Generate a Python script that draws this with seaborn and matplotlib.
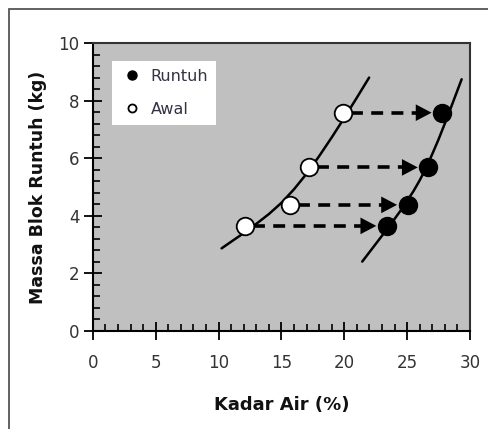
import matplotlib
matplotlib.use("Agg")
import matplotlib.pyplot as plt
import seaborn as sns
from matplotlib.patches import Rectangle
from matplotlib.ticker import MultipleLocator
from matplotlib.lines import Line2D

# Data
awal_x = [12.1, 15.7, 17.2, 19.9]
awal_y = [3.65, 4.38, 5.68, 7.58]
runtuh_x = [23.4, 25.05, 26.7, 27.8]
runtuh_y = [3.65, 4.38, 5.68, 7.58]

# trend curves
curve_awal_x = [10.24, 11.0, 12.0, 12.5, 13.0, 14.0, 15.0, 16.0, 17.0, 18.0, 19.0, 20.0, 21.0, 21.98]
curve_awal_y = [2.87, 3.10, 3.40, 3.56, 3.72, 4.06, 4.45, 4.92, 5.46, 6.07, 6.72, 7.40, 8.10, 8.80]
curve_runtuh_x = [21.43, 22.5, 23.5, 24.5, 25.5, 26.0, 26.5, 27.0, 27.5, 28.0, 28.5, 29.34]
curve_runtuh_y = [2.41, 3.02, 3.59, 4.19, 4.85, 5.23, 5.65, 6.14, 6.65, 7.20, 7.77, 8.74]

sns.set_theme(style="ticks")
plt.rcParams['font.family'] = ['DejaVu Sans']

fig = plt.figure(figsize=(4.89, 4.29), dpi=100)
ax = fig.add_axes([0.190, 0.2284, 0.771, 0.6714])
ax.set_facecolor('#C0C0C0')

# outer frame
fig.patches.append(Rectangle((9/489, -0.1), 1.2, 1 - 9/429 + 0.1, transform=fig.transFigure,
                             fill=False, edgecolor='#555555', linewidth=1.3, zorder=0))

sns.lineplot(x=curve_awal_x, y=curve_awal_y, ax=ax, color='black', lw=1.8, sort=False, zorder=2)
sns.lineplot(x=curve_runtuh_x, y=curve_runtuh_y, ax=ax, color='black', lw=1.8, sort=False, zorder=2)

# arrows
for xa, xr, y in zip(awal_x, runtuh_x, awal_y):
    tip = xr - 0.85
    ax.plot([xa + 0.6, tip - 0.6], [y, y], color='black', lw=2.6,
            linestyle=(0, (3.3, 2.3)), dash_capstyle='butt', zorder=3)
    ax.annotate('', xy=(tip, y), xytext=(tip - 1.0, y),
                arrowprops=dict(arrowstyle='-|>,head_length=0.95,head_width=0.5',
                                color='black', lw=0, shrinkA=0, shrinkB=0), zorder=3)

ax.scatter(awal_x, awal_y, s=160, facecolor='white', edgecolor='black', linewidth=1.3, zorder=4)
ax.scatter(runtuh_x, runtuh_y, s=160, facecolor='black', edgecolor='black', linewidth=1.3, zorder=4)

ax.set_xlim(0, 30)
ax.set_ylim(0, 10)
ax.xaxis.set_major_locator(MultipleLocator(5))
ax.xaxis.set_minor_locator(MultipleLocator(1))
ax.yaxis.set_major_locator(MultipleLocator(2))
ax.yaxis.set_minor_locator(MultipleLocator(0.4))
ax.tick_params(which='major', direction='inout', length=13, width=1.3, color='black',
               labelsize=12, labelcolor='#333333', pad=10)
ax.tick_params(which='minor', direction='in', length=5, width=1.2, color='black')
ax.tick_params(axis='y', which='major', pad=3)
for s in ax.spines.values():
    s.set_linewidth(1.5)
    s.set_color('#333333')
ax.spines['left'].set_color('black')
ax.spines['bottom'].set_color('black')

ax.set_xlabel('Kadar Air (%)', fontsize=13, fontweight='bold', labelpad=17, color='#111111')
ax.set_ylabel('Massa Blok Runtuh (kg)', fontsize=12.5, fontweight='bold', labelpad=8, color='#111111')

# legend
handles = [Line2D([], [], marker='o', ls='none', markerfacecolor='black', markeredgecolor='black', markersize=6.5),
           Line2D([], [], marker='o', ls='none', markerfacecolor='white', markeredgecolor='black', markersize=5.8, markeredgewidth=1.3)]
leg = ax.legend(handles, ['Runtuh', 'Awal'], loc='upper left', bbox_to_anchor=(0.0496, 0.9375),
                borderaxespad=0, frameon=True, fancybox=False, framealpha=1, edgecolor='white',
                fontsize=11.5, handletextpad=0.35, labelspacing=1.1, borderpad=0.5, handlelength=1.6)
leg.get_frame().set_linewidth(0)
for t in leg.get_texts():
    t.set_color('#333344')

fig.savefig('out.png', dpi=100, facecolor='white')
